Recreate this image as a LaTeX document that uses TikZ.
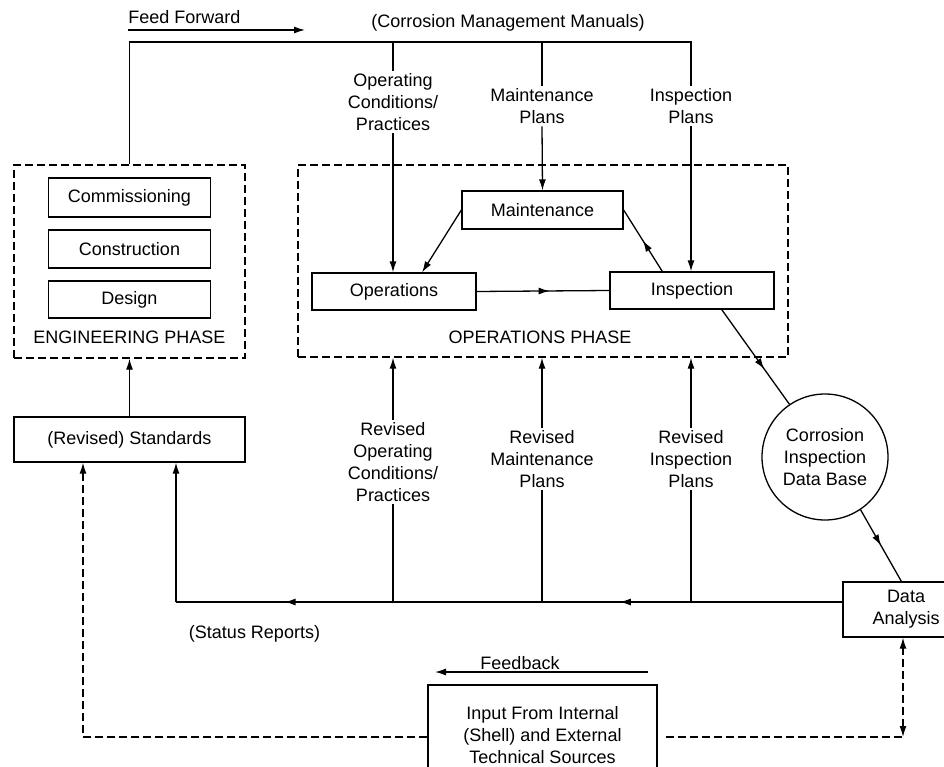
\documentclass[tikz,border=0pt]{standalone}
\usepackage{fontspec}
\setmainfont{Liberation Sans}
\usetikzlibrary{arrows.meta,decorations.markings,calc}
\begin{document}
\begin{tikzpicture}[x=1pt,y=-1pt,
  font=\fontsize{18}{22}\selectfont,
  line width=1.3pt,
  >={Latex[length=11pt,width=7pt]},
  box/.style={draw, rectangle, inner sep=0pt},
  lbl/.style={align=center, inner sep=2pt},
  dsh/.style={dash pattern=on 8pt off 4pt},
  midarr/.style={postaction={decorate}, decoration={markings, mark=at position #1 with {\arrow{>}}}}
]
\clip (0,0) rectangle (944,767);
\fill[white] (0,0) rectangle (944,767);

% engineering phase
\node[box, dsh, minimum width=231pt, minimum height=193pt] (eng) at (129.5,261.5) {};
\node[box, minimum width=162pt, minimum height=39pt] (comm) at (129.5,197.5) {Commissioning};
\node[box, minimum width=162pt, minimum height=38pt] (cons) at (129.5,249) {Construction};
\node[box, minimum width=162pt, minimum height=37pt] (des) at (129.5,299.5) {Design};
\node[lbl] (engl) at (129.5,337) {ENGINEERING PHASE};
\node[box, minimum width=231pt, minimum height=45pt] (std) at (129.5,439.5) {(Revised) Standards};

% operations phase
\node[box, dsh, minimum width=490pt, minimum height=192pt] (opsph) at (543,261) {};
\node[lbl] (opsl) at (540,337) {OPERATIONS PHASE};
\node[box, minimum width=164pt, minimum height=37pt] (opsb) at (394,291.5) {Operations};
\node[box, minimum width=161pt, minimum height=38pt] (maint) at (542.5,210) {Maintenance};
\node[box, minimum width=164pt, minimum height=37pt] (insp) at (692,290.5) {Inspection};

% data base and analysis
\node[draw, circle, minimum size=126pt, inner sep=0pt, align=center] (db) at (825,457) {Corrosion\\Inspection\\Data Base};
\node[box, minimum width=126pt, minimum height=55pt, align=center] (da) at (906,609.5) {Data\\Analysis};
\node[box, minimum width=229pt, minimum height=100pt, align=center] (inp) at (542.5,735) {Input From Internal\\(Shell) and External\\Technical Sources};

% labels
\node[lbl] (ff) at (184.5,17) {Feed Forward};
\node[lbl] (cmm) at (508,23) {(Corrosion Management Manuals)};
\node[lbl] (ocp) at (393,102) {Operating\\Conditions/\\Practices};
\node[lbl] (mp) at (542,106) {Maintenance\\Plans};
\node[lbl] (ip) at (691,106) {Inspection\\Plans};
\node[lbl] (rocp) at (393,462) {Revised\\Operating\\Conditions/\\Practices};
\node[lbl] (rmp) at (542,459) {Revised\\Maintenance\\Plans};
\node[lbl] (rip) at (691,459) {Revised\\Inspection\\Plans};
\node[lbl] (sr) at (254.5,634) {(Status Reports)};
\node[lbl] (fb) at (520,663) {Feedback};

% coordinates
\coordinate (ffa) at (128,30);
\coordinate (ffb) at (305,30);
\coordinate (tr) at (691,42);
\coordinate (bl) at (176,602);
\coordinate (dl) at (83,737);
\coordinate (dr) at (903,737);
\coordinate (fba) at (648,672);
\coordinate (fbb) at (435,672);

% feed forward
\draw[->] (ffa) -- (ffb);
\draw (eng.north) |- (tr) -- (ip.north);
\draw (ocp.north |- tr) -- (ocp.north);
\draw (mp.north |- tr) -- (mp.north);
\draw[->] (ocp.south) -- (ocp.south |- opsb.north);
\draw[->] (mp.south) -- (maint.north);
\draw[->] (ip.south) -- (ip.south |- insp.north);

% inside operations
\draw[->] (maint.west) -- ($(opsb.north west)!0.67!(opsb.north east)$);
\draw[midarr=0.55] (opsb.east) -- (insp.west);
\draw[midarr=0.5] ($(insp.north west)!0.32!(insp.north east)$) -- (maint.east);
\draw[midarr=0.63] ($(insp.south west)!0.68!(insp.south east)$) -- (db.124);
\draw[midarr=0.5] (db.-56) -- ($(da.north west)+(59,0)$);

% engineering
\draw[->] (std.north) -- (eng.south);

% feedback loop
\draw[postaction={decorate}, decoration={markings,
   mark=at position 0.334 with {\arrow{>}},
   mark=at position 0.837 with {\arrow{>}}}] (bl -| da.west) -- (bl);
\draw[->] (bl) -- (bl |- std.south);
\draw[->] (rocp.north) -- (rocp.north |- opsph.south);
\draw[->] (rmp.north) -- (rmp.north |- opsph.south);
\draw[->] (rip.north) -- (rip.north |- opsph.south);
\draw (rocp.south) -- (rocp.south |- bl);
\draw (rmp.south) -- (rmp.south |- bl);
\draw (rip.south) -- (rip.south |- bl);

% external sources
\draw[->] (fba) -- (fbb);
\draw[dsh, ->] (dl -| inp.west) -- (dl) -- (dl |- std.south);
\draw[dsh] ($(inp.east |- dr)+(8,0)$) -- (dr);
\draw[dsh, <->] (dr) -- (dr |- da.south);
\end{tikzpicture}
\end{document}
